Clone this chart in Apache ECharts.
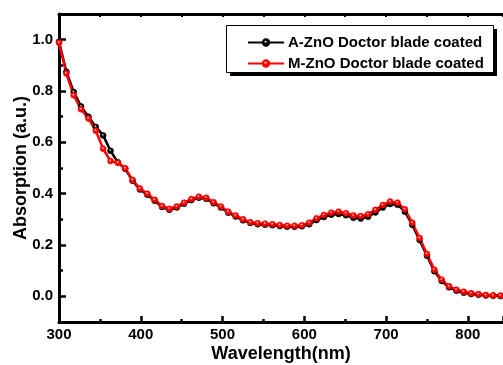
<!DOCTYPE html>
<html>
<head>
<meta charset="utf-8">
<script src="https://cdn.jsdelivr.net/npm/echarts@6/dist/echarts.min.js"></script>
<style>html,body{margin:0;padding:0;background:#fff;}#c{width:503px;height:365px;}</style>
</head>
<body>
<div id="c"></div>
<script>
var wavelengths = [300,309,318,327,336,345,354,363,372,381,390,399,408,417,426,435,444,453,462,471,480,489,498,507,516,525,534,543,552,561,570,579,588,597,606,615,624,633,642,651,660,669,678,687,696,705,714,723,732,741,750,759,768,777,786,795,804,813,822,831,840];
var aZnO = [0.992,0.875,0.796,0.740,0.700,0.660,0.627,0.567,0.522,0.497,0.450,0.416,0.396,0.372,0.348,0.337,0.346,0.361,0.375,0.384,0.380,0.363,0.346,0.326,0.311,0.296,0.286,0.281,0.279,0.277,0.274,0.271,0.271,0.273,0.281,0.297,0.309,0.318,0.321,0.316,0.306,0.303,0.310,0.327,0.346,0.360,0.357,0.330,0.279,0.219,0.158,0.098,0.060,0.035,0.022,0.014,0.009,0.006,0.003,0.002,0.001];
var mZnO = [0.988,0.868,0.783,0.729,0.693,0.645,0.575,0.527,0.520,0.499,0.453,0.420,0.400,0.376,0.352,0.341,0.350,0.365,0.379,0.388,0.384,0.367,0.350,0.330,0.315,0.300,0.289,0.285,0.283,0.281,0.278,0.275,0.275,0.277,0.287,0.304,0.317,0.326,0.330,0.324,0.315,0.313,0.320,0.337,0.356,0.369,0.365,0.339,0.287,0.227,0.165,0.104,0.065,0.039,0.026,0.018,0.012,0.009,0.005,0.004,0.003];
var yMajorTicks = [0.0,0.2,0.4,0.6,0.8,1.0];
var yMinorTicks = [-0.1,0.1,0.3,0.5,0.7,0.9,1.1];
var seriesNames = ['A-ZnO Doctor blade coated','M-ZnO Doctor blade coated'];

function pairs(xs, ys){ return xs.map(function(x,i){ return [x, ys[i]]; }); }
function glossy(c){
  return {type:'radial', x:0.45, y:0.4, r:0.6, colorStops:[{offset:0,color:'#ffffff'},{offset:0.35,color:c},{offset:1,color:c}]};
}
var font = '"Liberation Sans", Arial, sans-serif';
var chart = echarts.init(document.getElementById('c'), null, {renderer:'canvas'});
chart.setOption({
  animation:false,
  backgroundColor:'#fff',
  grid:{left:59, top:14, right:0, bottom:43, containLabel:false, outerBoundsMode:'none'},
  graphic:[
    {type:'rect', z:5, shape:{x:230, y:29, width:267, height:47}, style:{fill:'#000'}},
    {type:'rect', z:5, shape:{x:226.5, y:25.5, width:267, height:47}, style:{fill:'#fff', stroke:'#000', lineWidth:1}}
  ],
  legend:{
    z:10,
    orient:'vertical', left:226, top:25,
    padding:[10,15,4,21], itemGap:6, itemWidth:36, itemHeight:8,
    textStyle:{fontFamily:font, fontWeight:'bold', fontSize:15, color:'#000', padding:[0,0,0,-1]},
    data:seriesNames
  },
  xAxis:[{
    type:'value', min:300, max:843, interval:100, position:'bottom',
    axisLine:{show:true, onZero:false, lineStyle:{color:'#000', width:3}},
    axisTick:{show:true, inside:true, length:6, lineStyle:{color:'#000', width:2.5}},
    minorTick:{show:true, splitNumber:2, length:3, lineStyle:{color:'#000', width:2.5}},
    splitLine:{show:false},
    axisLabel:{fontFamily:font, fontWeight:'bold', fontSize:15, color:'#000', margin:5,
      formatter:function(v){ return v>800 ? '' : String(v); }},
    name:'Wavelength(nm)', nameLocation:'middle', nameGap:23, nameMoveOverlap:false,
    nameTextStyle:{fontFamily:font, fontWeight:'bold', fontSize:18, color:'#000'}
  },{
    type:'value', min:300, max:843, interval:50, position:'top',
    axisLine:{show:true, onZero:false, lineStyle:{color:'#000', width:3}},
    axisTick:{show:true, inside:true, length:3, lineStyle:{color:'#000', width:2}},
    axisLabel:{show:false}, splitLine:{show:false}
  }],
  yAxis:[{
    type:'value', min:-0.1, max:1.1, position:'left',
    axisLine:{show:true, onZero:false, lineStyle:{color:'#000', width:3}},
    axisTick:{show:true, inside:true, length:7, customValues:yMajorTicks, lineStyle:{color:'#000', width:2.5}},
    axisLabel:{fontFamily:font, fontWeight:'bold', fontSize:15, color:'#000', margin:6,
      customValues:yMajorTicks, formatter:function(v){ return v.toFixed(1); }},
    splitLine:{show:false},
    name:'Absorption (a.u.)', nameLocation:'middle', nameGap:29, nameMoveOverlap:false,
    nameTextStyle:{fontFamily:font, fontWeight:'bold', fontSize:18, color:'#000'}
  },{
    type:'value', min:-0.1, max:1.1, position:'left',
    axisLine:{show:false, onZero:false},
    axisTick:{show:true, inside:true, length:4, customValues:yMinorTicks, lineStyle:{color:'#000', width:2.5}},
    axisLabel:{show:false}, splitLine:{show:false}
  }],
  series:[{
    name:seriesNames[0], type:'line', xAxisIndex:0, yAxisIndex:0,
    data:pairs(wavelengths, aZnO),
    symbol:'circle', symbolSize:6, showAllSymbol:true,
    lineStyle:{color:'#000', width:2.5},
    itemStyle:{color:glossy('#000'), borderColor:'#000', borderWidth:0.5}
  },{
    name:seriesNames[1], type:'line', xAxisIndex:0, yAxisIndex:0,
    data:pairs(wavelengths, mZnO),
    symbol:'circle', symbolSize:6, showAllSymbol:true,
    lineStyle:{color:'#ff0000', width:2.5},
    itemStyle:{color:glossy('#ff0000'), borderColor:'#ff0000', borderWidth:0.5}
  }]
});
</script>
</body>
</html>
